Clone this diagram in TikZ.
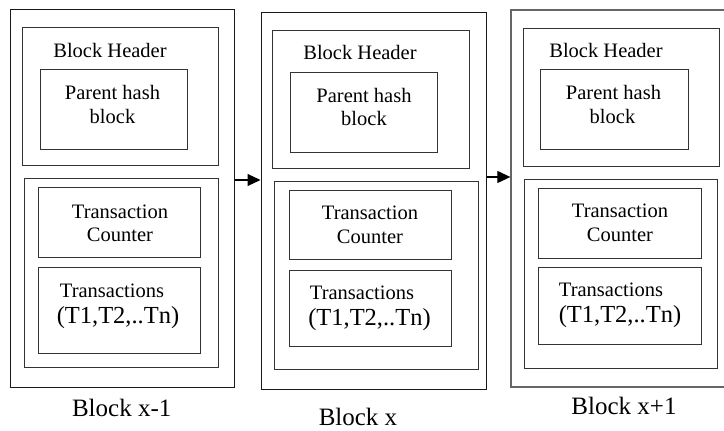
\documentclass[tikz,border=0pt]{standalone}
\usepackage{fontspec}
\setmainfont{Liberation Serif}
\usetikzlibrary{fit,arrows.meta}
\begin{document}
\begin{tikzpicture}[x=1pt,y=-1pt,
  box/.style={draw=black!80, line width=0.9pt, inner sep=0pt, fit={#1}},
  outerbox/.style={draw=black!90, line width=1pt, inner sep=0pt, fit={#1}},
  txt/.style={anchor=base, inner sep=0pt, font=\fontsize{20.5}{24}\selectfont},
  big/.style={anchor=base, inner sep=0pt, font=\fontsize{24.5}{28}\selectfont},
  lab/.style={anchor=base, inner sep=0pt, font=\fontsize{25}{30}\selectfont},
  arr/.style={draw=black, line width=1.2pt, -{Triangle[length=13pt,width=12pt]}}]
\useasboundingbox (0,0) rectangle (724,431);
% Block 1
\node[outerbox={(10.5,9.5) (234,387)}] (o1) {};
\node[box={(22,27) (218.5,165)}] (h1) {};
\node[box={(40,69) (187,149)}] (p1) {};
\node[box={(24,178) (218,367)}] (b1) {};
\node[box={(38,187) (200,257)}] (c1) {};
\node[box={(38,267) (200,353)}] (t1) {};
\node[txt] (h1t) at (110,57) {Block Header};
\node[txt] (p1t) at (112.5,99) {Parent hash};
\node[txt] (p1u) at (112.5,123) {block};
\node[txt] (c1t) at (120,218) {Transaction};
\node[txt] (c1u) at (120,241) {Counter};
\node[txt] (t1t) at (112,297) {Transactions};
\node[big] (t1u) at (118,323) {(T1,T2,..Tn)};
\node[lab] (l1) at (121.7,416) {Block x-1};
% Block 2
\node[outerbox={(261,12) (486,389)}] (o2) {};
\node[box={(272,30) (469,168)}] (h2) {};
\node[box={(290,72) (437,152)}] (p2) {};
\node[box={(274,181) (478,369)}] (b2) {};
\node[box={(289,190) (451,259)}] (c2) {};
\node[box={(289,270) (451,346)}] (t2) {};
\node[txt] (h2t) at (360,59) {Block Header};
\node[txt] (p2t) at (364,102) {Parent hash};
\node[txt] (p2u) at (364,125) {block};
\node[txt] (c2t) at (370,219) {Transaction};
\node[txt] (c2u) at (370,243) {Counter};
\node[txt] (t2t) at (362,299) {Transactions};
\node[big] (t2u) at (369.5,325) {(T1,T2,..Tn)};
\node[lab] (l2) at (358,425) {Block x};
% Block 3
\node[outerbox={(511,10) (730,387)}, draw=black!60, line width=1.3pt] (o3) {};
\node[box={(523,28) (719,166)}] (h3) {};
\node[box={(540,69) (688,149)}] (p3) {};
\node[box={(524,179) (717,368)}] (b3) {};
\node[box={(538,188) (701,258)}] (c3) {};
\node[box={(538,267) (701,344)}] (t3) {};
\node[txt] (h3t) at (606,57) {Block Header};
\node[txt] (p3t) at (613.5,99) {Parent hash};
\node[txt] (p3u) at (612.5,123) {block};
\node[txt] (c3t) at (620,217) {Transaction};
\node[txt] (c3u) at (620,241) {Counter};
\node[txt] (t3t) at (611,296) {Transactions};
\node[big] (t3u) at (620,322) {(T1,T2,..Tn)};
\node[lab] (l3) at (624,414) {Block x+1};
% Arrows
\draw[arr] (o1.east |- 0,180) -- (o2.west |- 0,180);
\draw[arr] (o2.east |- 0,177) -- (o3.west |- 0,177);
\end{tikzpicture}
\end{document}
